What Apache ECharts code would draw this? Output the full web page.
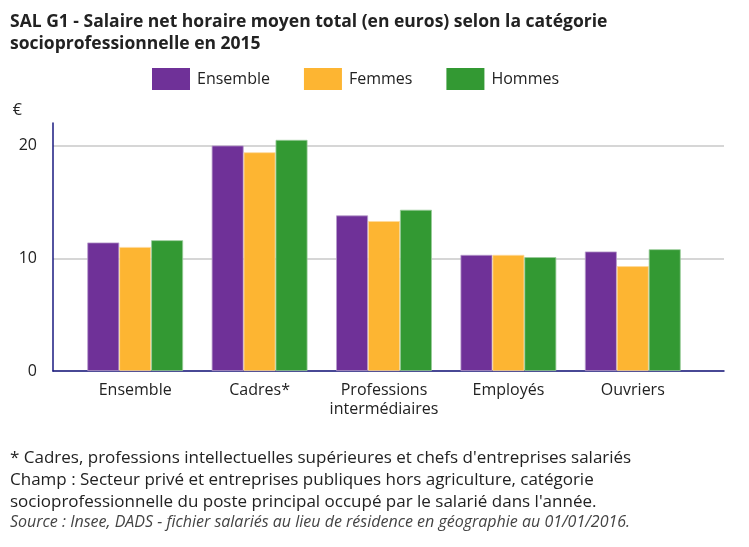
<!DOCTYPE html>
<html>
<head>
<meta charset="utf-8">
<script src="https://cdn.jsdelivr.net/npm/echarts@6/dist/echarts.min.js"></script>
<style>
	body { margin: 0; background: #fff; }
	#main { width: 749px; height: 547px; }
</style>
</head>
<body>
<div id="main"></div>
<script>
var categories = ['Ensemble', 'Cadres*', 'Professions\nintermédiaires', 'Employés', 'Ouvriers'];
var ensemble = [11.4, 20.0, 13.8, 10.3, 10.6];
var femmes = [11.0, 19.4, 13.3, 10.3, 9.3];
var hommes = [11.6, 20.5, 14.3, 10.1, 10.8];

var font = '"Open Sans", sans-serif';

function chart() {
	var myChart = echarts.init(document.getElementById('main'));
	var option = {
		backgroundColor: '#fff',
		textStyle: { fontFamily: font },
		title: [{
			text: 'SAL G1 - Salaire net horaire moyen total (en euros) selon la catégorie\nsocioprofessionnelle en 2015',
			left: 5,
			top: 6,
			textStyle: {
				fontFamily: font,
				fontSize: 17.5,
				fontWeight: 'bold',
				color: '#222',
				lineHeight: 22
			}
		}, {
			text: "* Cadres, professions intellectuelles supérieures et chefs d'entreprises salariés\n" +
				'Champ : Secteur privé et entreprises publiques hors agriculture, catégorie\n' +
				"socioprofessionnelle du poste principal occupé par le salarié dans l'année.",
			left: 5,
			top: 442,
			textStyle: {
				fontFamily: font,
				fontSize: 17,
				fontWeight: 'normal',
				color: '#222',
				lineHeight: 22
			}
		}, {
			text: 'Source : Insee, DADS - fichier salariés au lieu de résidence en géographie au 01/01/2016.',
			left: 5,
			top: 509,
			textStyle: {
				fontFamily: font,
				fontSize: 16,
				fontStyle: 'italic',
				fontWeight: 'normal',
				color: '#444'
			}
		}], //标题和脚注
		legend: {
			left: 147,
			top: 63,
			itemWidth: 38,
			itemHeight: 22,
			itemGap: 34,
			icon: 'rect',
			itemStyle: { borderWidth: 0 },
			textStyle: { fontFamily: font, fontSize: 16, color: '#222', padding: [0, 0, 0, 2] },
			data: ['Ensemble', 'Femmes', 'Hommes']
		},
		grid: [
			{ left: 53, right: 25, top: 123, bottom: 176 }, // 轴线和网格
			{ left: 73, right: 54, top: 123, bottom: 176 }  // 柱子
		],
		xAxis: [{
			type: 'category',
			gridIndex: 0,
			data: categories,
			axisLine: { lineStyle: { color: '#1a1a80', width: 1.5 } },
			axisTick: { show: false },
			axisLabel: { show: false }
		}, {
			type: 'category',
			gridIndex: 1,
			data: categories,
			axisLine: { show: false },
			axisTick: { show: false },
			axisLabel: {
				interval: 0,
				fontFamily: font,
				fontSize: 16,
				color: '#222',
				margin: 10,
				lineHeight: 19
			}
		}],
		yAxis: [{
			type: 'value',
			gridIndex: 0,
			min: 0,
			max: 22,
			interval: 10,
			name: '€',
			nameLocation: 'end',
			nameGap: 5,
			nameTextStyle: { fontFamily: font, fontSize: 16, color: '#222', align: 'right', padding: [0, 31, 0, 0] },
			axisLine: { show: true, lineStyle: { color: '#1a1a80', width: 1.5 } },
			axisTick: { show: false },
			axisLabel: {
				fontFamily: font,
				fontSize: 16,
				color: '#222',
				margin: 16,
				showMaxLabel: false
			},
			splitLine: { showMaxLine: false, lineStyle: { color: '#c8c8c8', width: 1.5 } }
		}, {
			type: 'value',
			gridIndex: 1,
			min: 0,
			max: 22,
			interval: 10,
			show: false,
			splitLine: { show: false }
		}],
		series: [{
			name: 'Ensemble',
			type: 'bar',
			xAxisIndex: 1,
			yAxisIndex: 1,
			barGap: '0%',
			barCategoryGap: '23%',
			data: ensemble,
			itemStyle: { color: '#6f3198', borderColor: '#b79ccb', borderWidth: 0.8 }
		}, {
			name: 'Femmes',
			type: 'bar',
			xAxisIndex: 1,
			yAxisIndex: 1,
			data: femmes,
			itemStyle: { color: '#fdb532', borderColor: '#fed99a', borderWidth: 0.8 }
		}, {
			name: 'Hommes',
			type: 'bar',
			xAxisIndex: 1,
			yAxisIndex: 1,
			data: hommes,
			itemStyle: { color: '#339933', borderColor: '#99cc99', borderWidth: 0.8 }
		}],
		animation: false
	};
	myChart.setOption(option);
}

chart();
</script>
</body>
</html>
